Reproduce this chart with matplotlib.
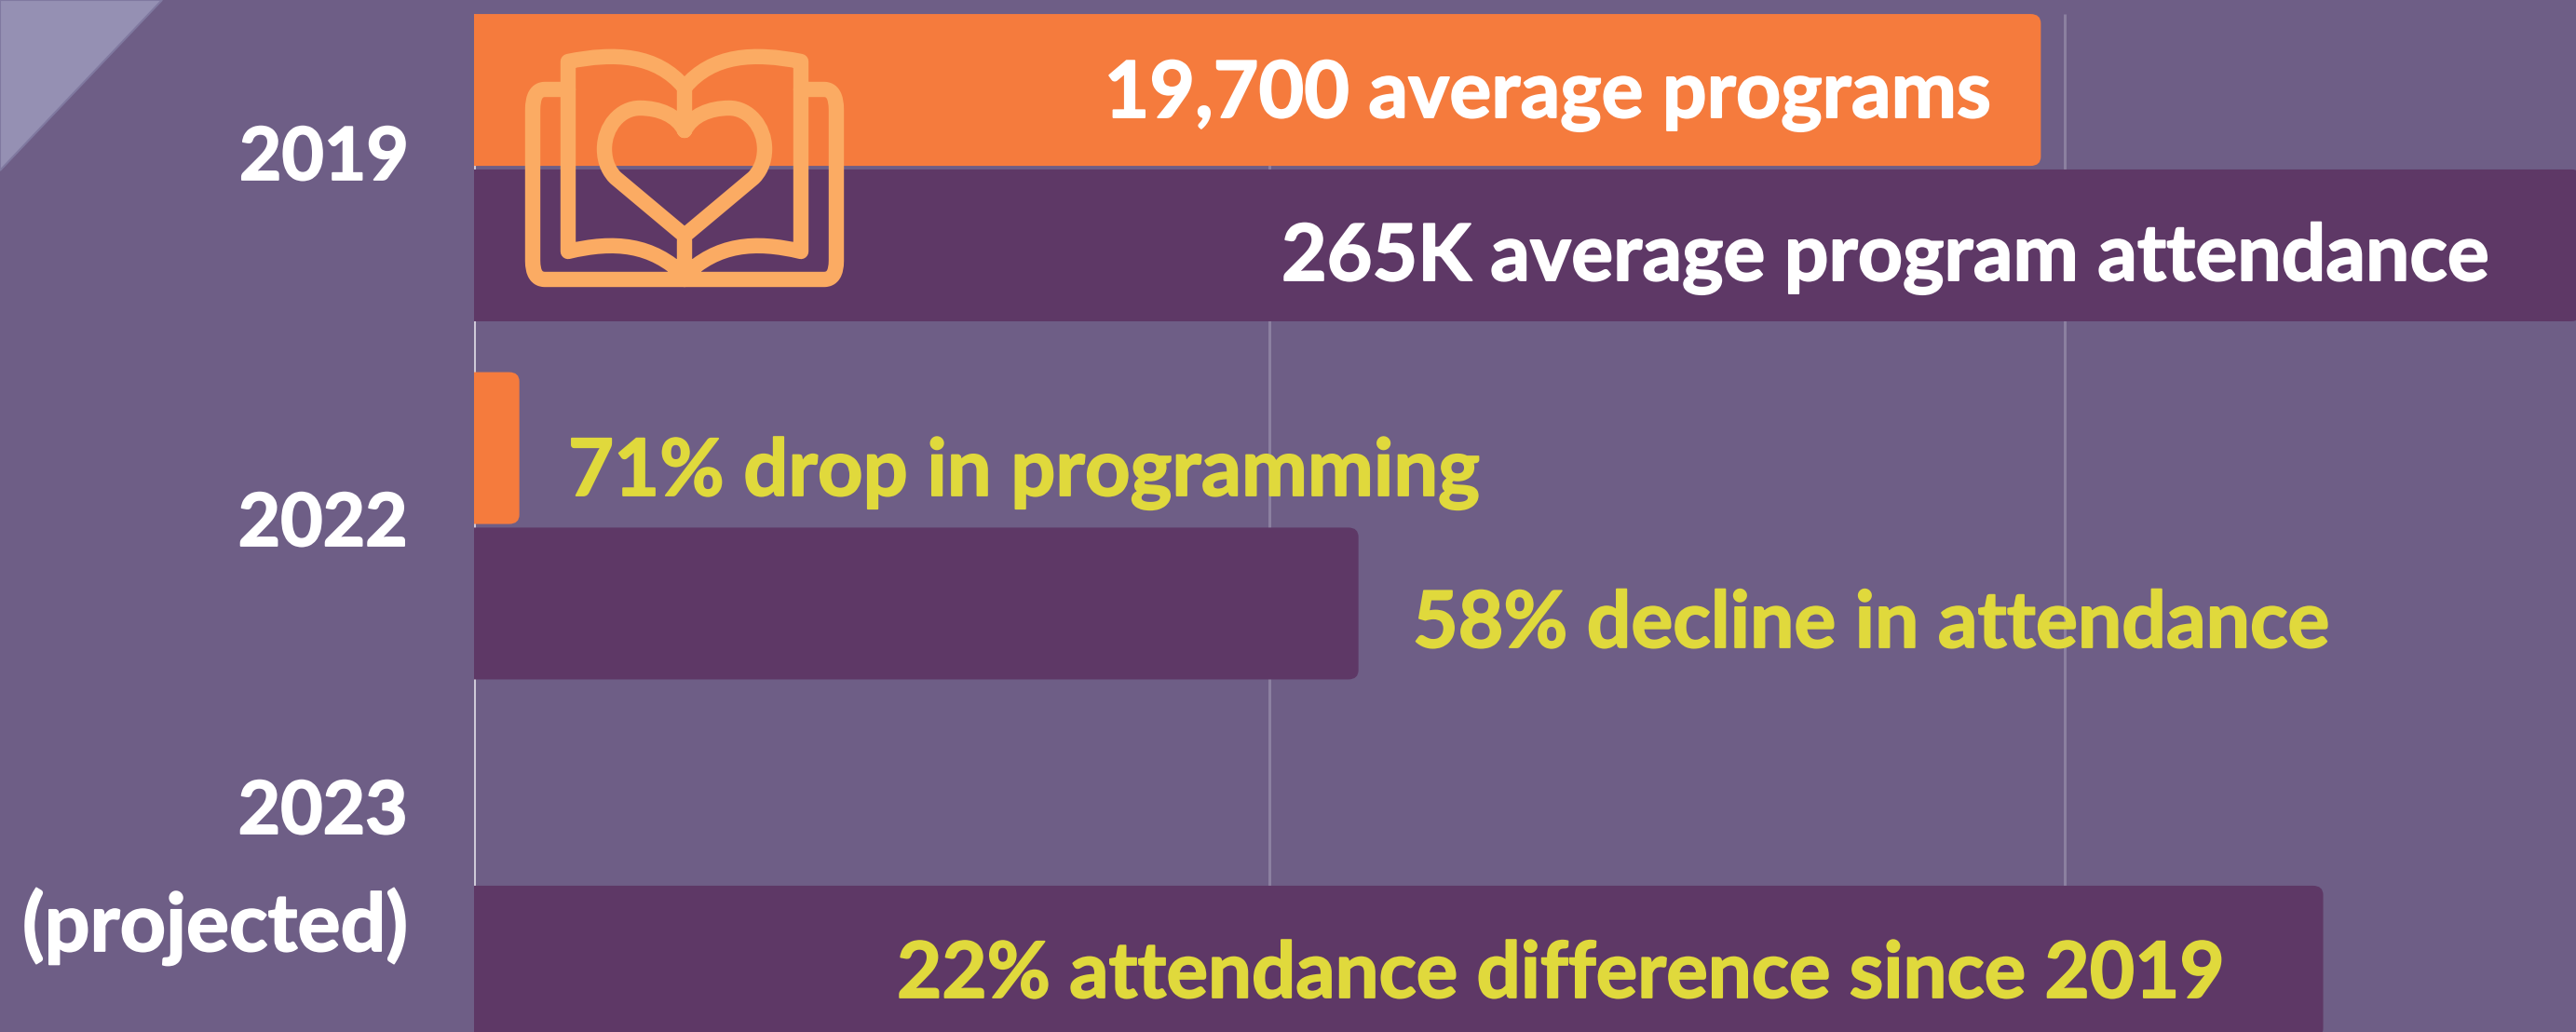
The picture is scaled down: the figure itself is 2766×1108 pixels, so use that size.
import matplotlib
matplotlib.use("Agg")
import matplotlib.pyplot as plt
import matplotlib.patheffects as pe
from matplotlib.patches import PathPatch, Polygon
from matplotlib.path import Path

W, H = 2766, 1108

# values
years = ["2019", "2022", "2023"]
programs = [19700, 570, None]
attendance = [265000, 111200, 232500]  # drawn at 1/10 scale, shares the grid with programs
grid_ticks = [0, 10000, 20000]

bg = "#6E5E86"
orange = "#F57B3D"
purple = "#5E3866"
yellow = "#E0D93C"
icon_col = "#FBAB63"

plt.rcParams["font.family"] = ["Lato", "DejaVu Sans"]
plt.rcParams["font.weight"] = "bold"

fig = plt.figure(figsize=(W / 100, H / 100), dpi=100, facecolor=bg)

# chart axes, zero of the x axis sits at px 509
ax = fig.add_axes([509 / W, 0, (W - 509) / W, 1])
ax.set_facecolor("none")
ax.set_xlim(0, (W - 509) / 85.4 * 1000)
ax.set_ylim((1108 - 180) / 384.5, -180 / 384.5)
ax.axis("off")

bar_h = 0.424
offset = 0.217


def round_bar(y, value, color):
    # bar with the two right corners rounded
    rx = 11 / 85.4 * 1000
    ry = 10 / 384.5
    top, bot = y - bar_h / 2, y + bar_h / 2
    verts = [(0, top), (value - rx, top), (value, top), (value, top + ry),
             (value, bot - ry), (value, bot), (value - rx, bot), (0, bot), (0, top)]
    codes = [Path.MOVETO, Path.LINETO, Path.CURVE3, Path.CURVE3,
             Path.LINETO, Path.CURVE3, Path.CURVE3, Path.LINETO, Path.CLOSEPOLY]
    ax.add_patch(PathPatch(Path(verts, codes), fc=color, ec="none", zorder=2))


ax.vlines(grid_ticks[1:], -0.429, 2.42, color="#8B80A0", lw=2.2, zorder=1)
ax.vlines(grid_ticks[0], -0.429, 2.42, color="#CFCAD8", lw=2.2, zorder=1)

for i, val in enumerate(programs):
    if val is not None:
        round_bar(i - offset, val, orange)
for i, val in enumerate(attendance):
    round_bar(i + offset, val / 10, purple)

# overlay in pixel coordinates for the decoration and the labels
ov = fig.add_axes([0, 0, 1, 1])
ov.set_facecolor("none")
ov.set_xlim(0, W)
ov.set_ylim(H, 0)
ov.axis("off")

ov.add_patch(Polygon([(0, 0), (174, 0), (0, 183)], fc="#9590B3", ec="#8079A0", lw=1.5))

# book icon
M, L, Q, B = Path.MOVETO, Path.LINETO, Path.CURVE3, Path.CURVE4
book = [
    # cover
    ((610, 96), M), ((585, 96), L), ((572, 96), Q), ((572, 118), Q), ((572, 280), L),
    ((572, 300), Q), ((585, 300), Q), ((885, 300), L), ((898, 300), Q), ((898, 280), Q),
    ((898, 118), L), ((898, 96), Q), ((885, 96), Q), ((860, 96), L),
    # left page
    ((735, 94), M), ((705, 58), B), ((660, 56), B), ((610, 66), B), ((610, 270), L),
    ((660, 258), B), ((700, 262), B), ((735, 296), B),
    # right page
    ((735, 94), M), ((765, 58), B), ((810, 56), B), ((860, 66), B), ((860, 270), L),
    ((810, 258), B), ((770, 262), B), ((735, 296), B),
    # spine
    ((735, 96), M), ((735, 124), L), ((735, 258), M), ((735, 300), L),
    # heart
    ((735, 140), M), ((727, 124), B), ((708, 116), B), ((687, 116), B),
    ((666, 116), B), ((649, 136), B), ((649, 160), B),
    ((649, 175), B), ((655, 185), B), ((661, 191), B),
    ((735, 253), L), ((809, 191), L),
    ((815, 185), B), ((821, 175), B), ((821, 160), B),
    ((821, 136), B), ((804, 116), B), ((783, 116), B),
    ((762, 116), B), ((743, 124), B), ((735, 140), B),
]
ov.add_patch(PathPatch(Path([p for p, _ in book], [c for _, c in book]),
                       fc="none", ec=icon_col, lw=11.8, capstyle="round", joinstyle="round", zorder=3))


def label(x, y, s, color="white", size=60.5, ha="left"):
    # thin stroke to get closer to the heavier original bold
    ov.text(x, y, s, color=color, fontsize=size, ha=ha, va="baseline", zorder=4,
            path_effects=[pe.withStroke(linewidth=1.3, foreground=color)])


label(439, 193, years[0], size=56.5, ha="right")
label(438, 586, years[1], size=56.5, ha="right")
label(438, 895, years[2], size=56.5, ha="right")
label(438, 1021, "(projected)", size=62, ha="right")

label(2138, 126, "19,700 average programs", ha="right")
label(1376, 301, "265K average program attendance")
label(610, 532, "71% drop in programming", color=yellow, size=61)
label(1517, 695, "58% decline in attendance", color=yellow)
label(963, 1071, "22% attendance difference since 2019", color=yellow, size=60)

fig.savefig("out.png", dpi=100, facecolor=bg)
